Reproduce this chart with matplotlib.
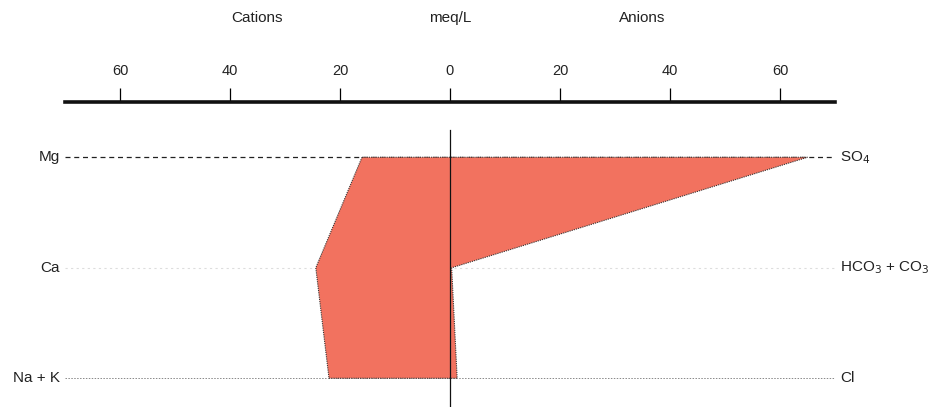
import matplotlib.pyplot as plt

plt.rcParams['font.family'] = ['Liberation Sans', 'DejaVu Sans']

# Stiff diagram values, meq/L
cations = ['Mg', 'Ca', 'Na + K']
anions = ['SO$_4$', 'HCO$_3$ + CO$_3$', 'Cl']
cation_meq = [16, 24.4, 22]
anion_meq = [65, 0.3, 1.3]
tick_values = [-60, -40, -20, 0, 20, 40, 60]
tick_labels = ['60', '40', '20', '0', '20', '40', '60']

fig = plt.figure(figsize=(9.34, 4.07), dpi=100)
ax = fig.add_axes([65 / 934, 0, 770 / 934, 305 / 407])
ax.set_xlim(-70, 70)
ax.set_ylim(2.26, -0.5)

rows = list(range(len(cations)))

# horizontal guide lines for each ion pair
ax.plot([-70, 70], [rows[0]] * 2, color='#222222', lw=0.9, ls=(0, (4, 3)), zorder=1)
ax.plot([-70, 70], [rows[1]] * 2, color='#dddddd', lw=0.8, ls=(0, (2, 3)), zorder=1)
ax.plot([-70, 70], [rows[2]] * 2, color='#888888', lw=0.7, ls=(0, (1.5, 1.5)), zorder=1)

# polygon: cations on the left (negative), anions on the right
xs = [-v for v in cation_meq] + anion_meq[::-1]
ys = rows + rows[::-1]
ax.fill(xs, ys, facecolor='#f2725f', edgecolor='#333333', lw=0.8,
        ls=(0, (1, 1)), zorder=2)

ax.plot([0, 0], [-0.245, 2.26], color='#111111', lw=0.9, zorder=3)

for r, name in zip(rows, cations):
    ax.text(-70.9, r, name, ha='right', va='center', fontsize=11, color='#222222')
for r, name in zip(rows, anions):
    ax.text(70.9, r, name, ha='left', va='center', fontsize=11, color='#222222')

# meq/L scale along the top
for s in ['left', 'right', 'bottom']:
    ax.spines[s].set_visible(False)
ax.spines['top'].set_linewidth(2.6)
ax.spines['top'].set_color('#111111')
ax.set_yticks([])
ax.xaxis.tick_top()
ax.set_xticks(tick_values)
ax.set_xticklabels(tick_labels, fontsize=10.5, color='#222222')
ax.tick_params(axis='x', direction='out', length=10, width=0.9, pad=7)

fig.text(257 / 934, 1 - 18 / 407, 'Cations', ha='center', va='center', fontsize=11, color='#222222')
fig.text(450 / 934, 1 - 18 / 407, 'meq/L', ha='center', va='center', fontsize=11, color='#222222')
fig.text(642 / 934, 1 - 18 / 407, 'Anions', ha='center', va='center', fontsize=11, color='#222222')

fig.savefig('out.png', dpi=100)
